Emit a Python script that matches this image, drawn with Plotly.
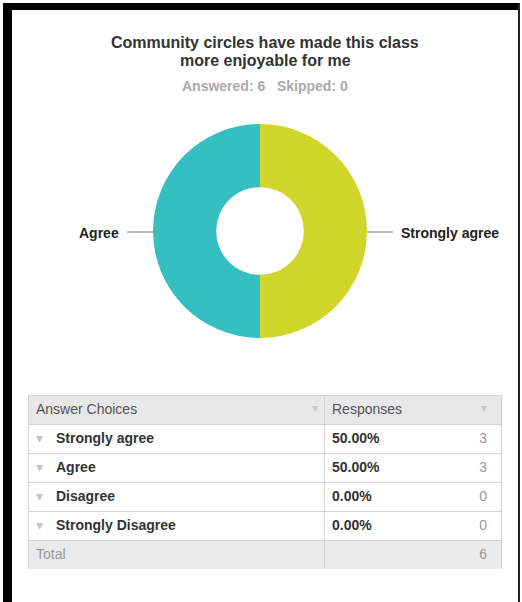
import plotly.graph_objects as go

# ---- data ----
choices = ["Strongly agree", "Agree", "Disagree", "Strongly Disagree"]
counts = [3, 3, 0, 0]
percents = ["50.00%", "50.00%", "0.00%", "0.00%"]
total_answered = 6
skipped = 0
title_lines = ["Community circles have made this class", "more enjoyable for me"]
slice_colors = ["#D0D62A", "#35BFC0", "#F0A030", "#7F7F7F"]

W, H = 522, 602
def px(x):
    return x / W
def py(y):
    return 1 - y / H

FONT = "Arial, Liberation Sans, sans-serif"
NB = "\u00a0"

fig = go.Figure()

# ---- donut ----
cx, cy, r = 260, 231, 107
fig.add_trace(go.Pie(
    labels=choices, values=counts, sort=False, direction="clockwise", rotation=0,
    hole=0.41, marker=dict(colors=slice_colors, line=dict(width=0)),
    textinfo="none", hoverinfo="label+percent", showlegend=False,
    domain=dict(x=[px(cx - r), px(cx + r)], y=[py(cy + r), py(cy - r)]),
))

# ---- table: grid, header, total label, percentages ----
tx0, tx1, ty0 = 28, 501, 395
rowh = 29
n_rows = len(choices) + 1
ty1 = ty0 + rowh * (n_rows + 1)
col1 = [""] * len(choices) + ["Total"]
col2 = list(percents) + [""]
fills = ["white"] * len(choices) + ["#ebebeb"]

fig.add_trace(go.Table(
    domain=dict(x=[px(tx0), px(tx1)], y=[py(ty1), py(ty0)]),
    columnwidth=[296, 177],
    header=dict(values=["Answer" + NB + "Choices", "Responses"], align="left",
                fill_color="#e8e8e8", line=dict(color="#d2d2d2", width=1),
                font=dict(family=FONT, size=14, color="#555555"), height=rowh),
    cells=dict(values=[col1, col2], align="left",
               fill_color=[fills, fills], line=dict(color="#d2d2d2", width=1),
               font=dict(family=FONT, size=14, color=["#999999", "#333333"],
                         weight=["normal", "bold"]),
               height=rowh),
))

# ---- overlay: row triangles, choice labels, header sort marks, counts ----
count_col = [str(c) for c in counts] + [str(total_answered)]
tri_col = ["▾"] * len(choices) + [""]
label_col = [c.replace(" ", NB) for c in choices] + [""]
fig.add_trace(go.Table(
    domain=dict(x=[px(tx0), px(tx1 - 6)], y=[py(ty1), py(ty0)]),
    columnwidth=[20, 278, 169],
    header=dict(values=["", "▾", "▾"], align="right",
                fill_color="rgba(0,0,0,0)", line=dict(color="rgba(0,0,0,0)", width=0),
                font=dict(family=FONT, size=12, color="#c8c8c8"), height=rowh),
    cells=dict(values=[tri_col, label_col, count_col], align=["left", "left", "right"],
               fill_color="rgba(0,0,0,0)", line=dict(color="rgba(0,0,0,0)", width=0),
               font=dict(family=FONT, size=14, color=["#c4c4c4", "#333333", "#999999"],
                         weight=["normal", "bold", "normal"]),
               height=rowh),
))

annotations = [
    dict(text=f"<b>{title_lines[0]}</b>", x=px(265), y=py(32),
         xref="paper", yref="paper", showarrow=False,
         font=dict(family=FONT, size=16, color="#333333")),
    dict(text=f"<b>{title_lines[1]}</b>", x=px(265), y=py(50),
         xref="paper", yref="paper", showarrow=False,
         font=dict(family=FONT, size=16, color="#333333")),
    dict(text=f"<b>Answered: {total_answered}   Skipped: {skipped}</b>", x=px(265), y=py(76),
         xref="paper", yref="paper", showarrow=False,
         font=dict(family=FONT, size=14, color="#aaaaaa")),
    dict(text="<b>Agree</b>", x=px(cx - r - 32), y=py(cy + 2), xanchor="right",
         xref="paper", yref="paper", showarrow=False,
         font=dict(family=FONT, size=14, color="#222222")),
    dict(text="<b>Strongly agree</b>", x=px(cx + r + 32), y=py(cy + 2), xanchor="left",
         xref="paper", yref="paper", showarrow=False,
         font=dict(family=FONT, size=14, color="#222222")),
]

shapes = [
    dict(type="line", xref="paper", yref="paper", x0=px(cx - r - 26), x1=px(cx - r),
         y0=py(cy + 1), y1=py(cy + 1), line=dict(color="#bbbbbb", width=2)),
    dict(type="line", xref="paper", yref="paper", x0=px(cx + r), x1=px(cx + r + 26),
         y0=py(cy + 1), y1=py(cy + 1), line=dict(color="#bbbbbb", width=2)),
    # frame
    dict(type="rect", xref="paper", yref="paper", x0=px(3), x1=px(520), y0=py(10), y1=py(3),
         fillcolor="black", line=dict(width=0)),
    dict(type="rect", xref="paper", yref="paper", x0=px(3), x1=px(12), y0=py(602), y1=py(3),
         fillcolor="black", line=dict(width=0)),
    dict(type="rect", xref="paper", yref="paper", x0=px(518), x1=px(520), y0=py(602), y1=py(3),
         fillcolor="#222222", line=dict(width=0)),
]

fig.update_layout(
    width=W, height=H, margin=dict(l=0, r=0, t=0, b=0),
    paper_bgcolor="white", plot_bgcolor="white",
    annotations=annotations, shapes=shapes, showlegend=False,
)

fig.write_html("out.html")
